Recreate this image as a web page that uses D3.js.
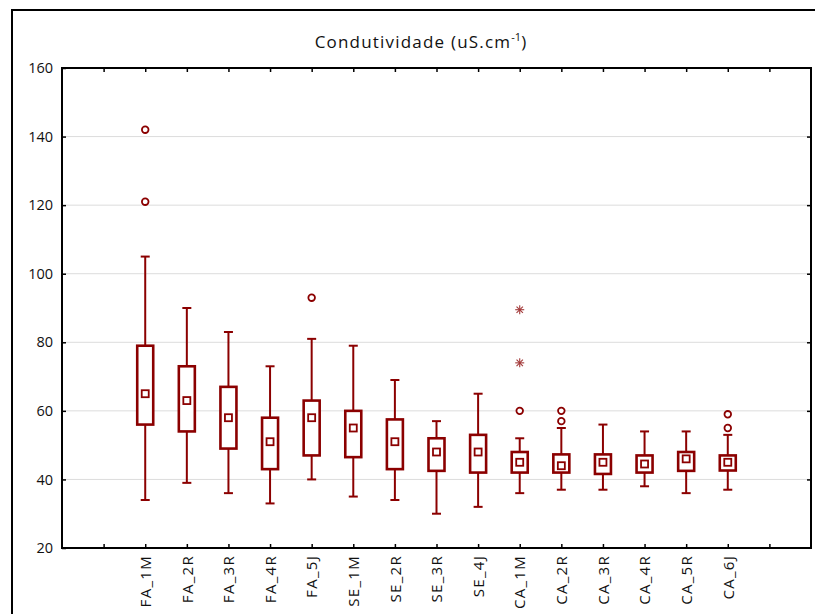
<!DOCTYPE html>
<html>
<head>
<meta charset="utf-8">
<script src="https://cdn.jsdelivr.net/npm/d3@7"></script>
<style>
  html, body { margin: 0; padding: 0; background: #fff; }
  svg { display: block; }
</style>
</head>
<body>
<script>
// Conductivity per sampling site: median, quartiles, non-outlier range, outliers and extremes
const categories = ["FA_1M","FA_2R","FA_3R","FA_4R","FA_5J","SE_1M","SE_2R","SE_3R","SE_4J","CA_1M","CA_2R","CA_3R","CA_4R","CA_5R","CA_6J"];
const median = [65, 63, 58, 51, 58, 55, 51, 48, 48, 45, 44, 45, 44.5, 46, 45];
const q1     = [56, 54, 49, 43, 47, 46.5, 43, 42.5, 42, 42, 42, 41.6, 42, 42.5, 42.6];
const q3     = [79, 73, 67, 58, 63, 60, 57.5, 52, 53, 48, 47.3, 47.3, 47, 48, 47];
const lowW   = [34, 39, 36, 33, 40, 35, 34, 30, 32, 36, 37, 37, 38, 36, 37];
const highW  = [105, 90, 83, 73, 81, 79, 69, 57, 65, 52, 55, 56, 54, 54, 53];
const outliers = [[121, 142], [], [], [], [93], [], [], [], [], [60], [57, 60], [], [], [], [55, 59]];
const extremes = [[], [], [], [], [], [], [], [], [], [74, 89.5], [], [], [], [], []];
const yTicks = [20, 40, 60, 80, 100, 120, 140, 160];

const W = 815, H = 614;
const plotL = 62, plotR = 811, plotT = 68, plotB = 548;
const red = "#8b0000";
const font = "'Open Sans', 'DejaVu Sans', sans-serif";

const svg = d3.select("body").append("svg").attr("width", W).attr("height", H);

// outer frame
svg.append("rect").attr("x", 12).attr("y", 10).attr("width", W + 10).attr("height", H + 10)
  .attr("fill", "#fff").attr("stroke", "#000").attr("stroke-width", 2);

// positions: categories sit at 2..16 in a 0..18 range, ticks at 1..17
const x = d3.scaleLinear().domain([0, 18]).range([plotL, plotR]);
const y = d3.scaleLinear().domain([20, 160]).range([plotB, plotT]);

// title
const title = svg.append("text").attr("x", 421).attr("y", 48).attr("text-anchor", "middle")
  .attr("font-family", font).attr("font-size", 17).attr("letter-spacing", 1.2).attr("fill", "#111");
title.append("tspan").text("Condutividade (uS.cm");
title.append("tspan").attr("dy", -7).attr("font-size", 11).attr("letter-spacing", 0).text("-1");
title.append("tspan").attr("dy", 7).text(")");

// gridlines
svg.append("g").selectAll("line").data(yTicks.filter(t => t > 20 && t < 160)).join("line")
  .attr("x1", plotL).attr("x2", plotR).attr("y1", d => y(d)).attr("y2", d => y(d))
  .attr("stroke", "#dcdcdc").attr("stroke-width", 1);

// axes
const tickIdx = d3.range(1, 18);
const yAxisL = d3.axisLeft(y).tickValues(yTicks).tickSize(-4).tickPadding(9);
const gl = svg.append("g").attr("transform", `translate(${plotL},0)`).call(yAxisL);
gl.selectAll("text").attr("font-family", font).attr("font-size", 14.5).attr("fill", "#111");
const yAxisR = d3.axisRight(y).tickValues(yTicks.slice(1, -1)).tickSize(-4).tickFormat("");
svg.append("g").attr("transform", `translate(${plotR},0)`).call(yAxisR);

const xAxisB = d3.axisBottom(x).tickValues(tickIdx).tickSize(-4)
  .tickFormat(i => (i >= 2 && i <= 16) ? categories[i - 2] : "");
const gb = svg.append("g").attr("transform", `translate(0,${plotB})`).call(xAxisB);
gb.selectAll("text")
  .attr("font-family", font).attr("font-size", 15).attr("letter-spacing", 1.3).attr("fill", "#111")
  .attr("transform", "rotate(-90)").attr("text-anchor", "end")
  .attr("x", -7).attr("y", 0).attr("dy", "0.35em");
const xAxisT = d3.axisTop(x).tickValues(tickIdx).tickSize(-4).tickFormat("");
svg.append("g").attr("transform", `translate(0,${plotT})`).call(xAxisT);

svg.selectAll(".domain").remove();
svg.selectAll(".tick line").attr("stroke", "#000").attr("stroke-width", 1.5);

// plot frame
svg.append("rect").attr("x", plotL).attr("y", plotT).attr("width", plotR - plotL).attr("height", plotB - plotT)
  .attr("fill", "none").attr("stroke", "#000").attr("stroke-width", 2);

// boxes
const boxW = 16, capW = 9;
const rows = categories.map((c, i) => ({ c, i, med: median[i], lo: q1[i], hi: q3[i], wl: lowW[i], wh: highW[i], out: outliers[i], ext: extremes[i] }));
const g = svg.append("g").selectAll("g").data(rows).join("g")
  .attr("transform", d => `translate(${x(d.i + 2)},0)`);

g.append("line").attr("x1", 0).attr("x2", 0).attr("y1", d => y(d.hi)).attr("y2", d => y(d.wh))
  .attr("stroke", red).attr("stroke-width", 2);
g.append("line").attr("x1", 0).attr("x2", 0).attr("y1", d => y(d.lo)).attr("y2", d => y(d.wl))
  .attr("stroke", red).attr("stroke-width", 2);
g.append("line").attr("x1", -capW / 2).attr("x2", capW / 2).attr("y1", d => y(d.wh)).attr("y2", d => y(d.wh))
  .attr("stroke", red).attr("stroke-width", 2);
g.append("line").attr("x1", -capW / 2).attr("x2", capW / 2).attr("y1", d => y(d.wl)).attr("y2", d => y(d.wl))
  .attr("stroke", red).attr("stroke-width", 2);
g.append("rect").attr("x", -boxW / 2).attr("width", boxW)
  .attr("y", d => y(d.hi)).attr("height", d => y(d.lo) - y(d.hi))
  .attr("fill", "#fff").attr("stroke", red).attr("stroke-width", 2.6);
g.append("rect").attr("x", -3.5).attr("width", 7)
  .attr("y", d => y(d.med) - 3.5).attr("height", 7)
  .attr("fill", "#fff").attr("stroke", red).attr("stroke-width", 1.8);

// outliers
g.selectAll("circle").data(d => d.out).join("circle")
  .attr("cx", 0).attr("cy", v => y(v)).attr("r", 3.3)
  .attr("fill", "#fff").attr("stroke", red).attr("stroke-width", 1.8);

// extremes (asterisks)
const star = g.selectAll("g.ext").data(d => d.ext).join("g").attr("class", "ext")
  .attr("transform", v => `translate(0,${y(v)})`);
[0, 45, 90, 135].forEach(a => {
  star.append("line").attr("x1", -4.5).attr("x2", 4.5).attr("y1", 0).attr("y2", 0)
    .attr("transform", `rotate(${a})`).attr("stroke", "#a33a3a").attr("stroke-width", 1.1);
});
</script>
</body>
</html>
